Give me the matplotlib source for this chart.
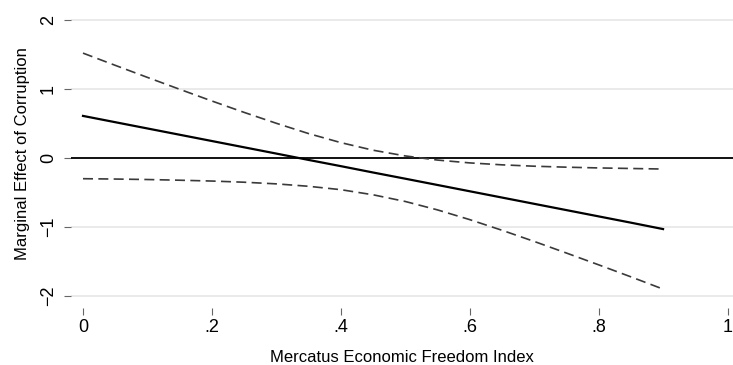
import matplotlib
matplotlib.use("Agg")
import matplotlib.pyplot as plt

# Data
x_vals = [0.0, 0.05, 0.1, 0.15, 0.2, 0.25, 0.3, 0.35, 0.4, 0.45,
          0.5, 0.55, 0.6, 0.65, 0.7, 0.75, 0.8, 0.85, 0.9]
marginal = [0.61, 0.519, 0.428, 0.337, 0.246, 0.155, 0.064, -0.028, -0.118, -0.210,
            -0.30, -0.391, -0.482, -0.573, -0.664, -0.755, -0.846, -0.937, -1.03]
upper_ci = [1.52, 1.343, 1.168, 0.996, 0.826, 0.661, 0.503, 0.354, 0.223, 0.113,
            0.030, -0.030, -0.071, -0.099, -0.119, -0.133, -0.144, -0.152, -0.16]
lower_ci = [-0.30, -0.305, -0.312, -0.322, -0.334, -0.351, -0.375, -0.410, -0.459, -0.533,
            -0.63, -0.752, -0.893, -1.047, -1.209, -1.377, -1.548, -1.722, -1.90]

x_ticks = [0, 0.2, 0.4, 0.6, 0.8, 1.0]
x_ticklabels = ["0", ".2", ".4", ".6", ".8", "1"]
y_ticks = [-2, -1, 0, 1, 2]
y_ticklabels = ["\u22122", "\u22121", "0", "1", "2"]

plt.rcParams['font.family'] = ['Liberation Sans', 'DejaVu Sans']

W, H = 733, 365
fig = plt.figure(figsize=(W / 100, H / 100), dpi=100)
left, right, bottom, top = 71, 733, 308, 0
ax = fig.add_axes([left / W, 1 - bottom / H, (right - left) / W, (bottom - top) / H])

for s in ax.spines.values():
    s.set_visible(False)

ax.set_xlim((left - 83) / 644.5, (right - 83) / 644.5)
ax.set_ylim((158 - bottom) / 69, (158 - top) / 69)

ax.set_yticks(y_ticks)
ax.set_yticklabels(y_ticklabels, rotation=90, va='center', fontsize=13)
ax.set_xticks(x_ticks)
ax.set_xticklabels(x_ticklabels, fontsize=13)
ax.tick_params(axis='both', direction='out', length=5, width=0.8, color='#666666',
               labelcolor='black')
ax.tick_params(axis='y', pad=5)
ax.tick_params(axis='x', pad=3)

ax.yaxis.grid(True, color='#e6e6e6', linewidth=1.2)
ax.set_axisbelow(True)

ax.axhline(0, color='black', linewidth=1.3, zorder=2)
ax.plot(x_vals, marginal, color='black', linewidth=1.6, zorder=3)
l1, = ax.plot(x_vals, upper_ci, color='#3a3a3a', linewidth=1.2, zorder=3)
l2, = ax.plot(x_vals, lower_ci, color='#3a3a3a', linewidth=1.2, zorder=3)
for l in (l1, l2):
    l.set_dashes((6.0, 3.2))

ax.set_xlabel("Mercatus Economic Freedom Index", fontsize=12, labelpad=10)
ax.set_ylabel("Marginal Effect of Corruption", fontsize=12, labelpad=7)

fig.savefig("out.png", dpi=100)
